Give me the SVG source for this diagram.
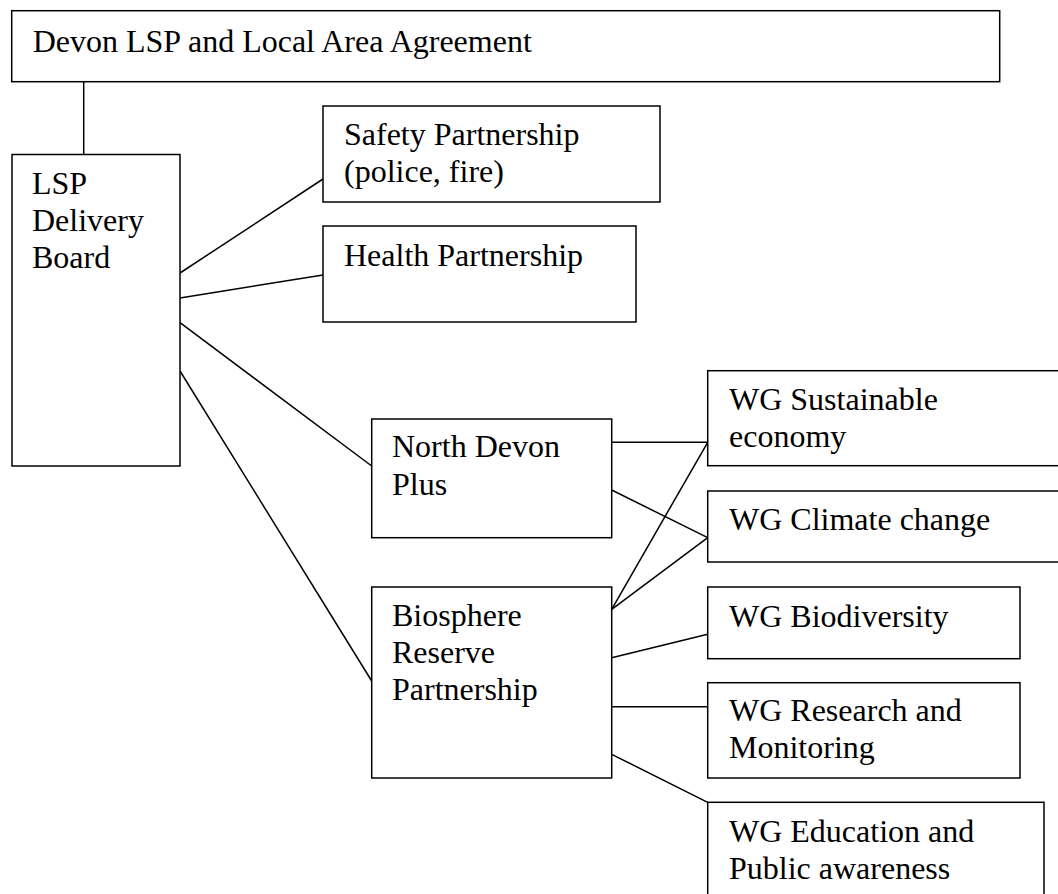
<svg xmlns="http://www.w3.org/2000/svg" width="1058" height="894" viewBox="0 0 1058 894">
<style>
.box{fill:#fff;stroke:#000;stroke-width:1.5}
.t{font-family:"Liberation Serif","Times New Roman",serif;font-size:32px;fill:#000}
.c line{stroke:#000;stroke-width:1.5}
</style>
<rect width="1058" height="894" fill="#fff"/>
<g class="c" id="connectors">
<line x1="83.7" y1="82" x2="83.7" y2="154.5"/>
<line x1="180" y1="273" x2="323" y2="179"/>
<line x1="180" y1="298" x2="323" y2="275"/>
<line x1="180" y1="322.7" x2="371.7" y2="466"/>
<line x1="180" y1="371" x2="371.7" y2="681"/>
<line x1="611.7" y1="442.3" x2="707.7" y2="442.3"/>
<line x1="611.7" y1="490" x2="707.7" y2="537.7"/>
<line x1="611.7" y1="609.3" x2="707.7" y2="442.3"/>
<line x1="611.7" y1="609.3" x2="707.7" y2="537.7"/>
<line x1="611.7" y1="657.7" x2="707.7" y2="634.3"/>
<line x1="611.7" y1="706.7" x2="707.7" y2="706.7"/>
<line x1="611.7" y1="754.3" x2="707.7" y2="802.3"/>
</g>
<g id="devon-lsp">
<rect class="box" x="11.7" y="10.7" width="988" height="71"/>
<text class="t" x="32.7" y="52">Devon LSP and Local Area Agreement</text>
</g>
<g id="lsp-board">
<rect class="box" x="12" y="154.5" width="168" height="311.5"/>
<text class="t" x="32" y="194">LSP</text>
<text class="t" x="32" y="231">Delivery</text>
<text class="t" x="32" y="268">Board</text>
</g>
<g id="safety">
<rect class="box" x="323" y="106" width="337" height="96"/>
<text class="t" x="344" y="145">Safety Partnership</text>
<text class="t" x="344" y="182">(police, fire)</text>
</g>
<g id="health">
<rect class="box" x="323" y="226" width="313" height="96"/>
<text class="t" x="344" y="266">Health Partnership</text>
</g>
<g id="north-devon">
<rect class="box" x="371.7" y="419" width="240" height="118.7"/>
<text class="t" x="392" y="457">North Devon</text>
<text class="t" x="392" y="495">Plus</text>
</g>
<g id="biosphere">
<rect class="box" x="371.7" y="587" width="240" height="191"/>
<text class="t" x="392" y="626">Biosphere</text>
<text class="t" x="392" y="663">Reserve</text>
<text class="t" x="392" y="700">Partnership</text>
</g>
<g id="wg-sustainable">
<rect class="box" x="707.7" y="370.7" width="360" height="95"/>
<text class="t" x="729" y="410">WG Sustainable</text>
<text class="t" x="729" y="447">economy</text>
</g>
<g id="wg-climate">
<rect class="box" x="707.7" y="491" width="360" height="71"/>
<text class="t" x="729" y="530">WG Climate change</text>
</g>
<g id="wg-biodiversity">
<rect class="box" x="707.7" y="587" width="312.3" height="71.7"/>
<text class="t" x="729" y="627">WG Biodiversity</text>
</g>
<g id="wg-research">
<rect class="box" x="707.7" y="682.7" width="312.3" height="95.3"/>
<text class="t" x="729" y="721">WG Research and</text>
<text class="t" x="729" y="758">Monitoring</text>
</g>
<g id="wg-education">
<rect class="box" x="707.7" y="802.3" width="336.3" height="120"/>
<text class="t" x="729" y="842">WG Education and</text>
<text class="t" x="729" y="879">Public awareness</text>
</g>
</svg>
